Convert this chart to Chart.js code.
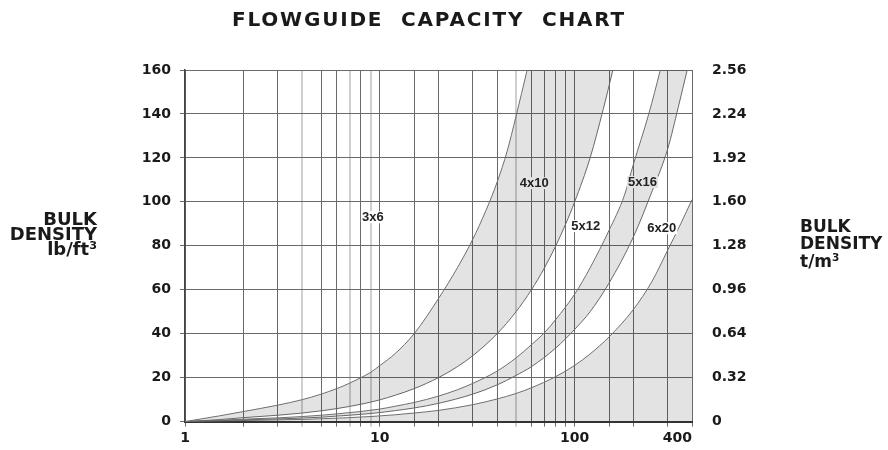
<!DOCTYPE html>
<html>
<head>
<meta charset="utf-8">
<title>Flowguide capacity chart</title>
<script src="https://cdn.jsdelivr.net/npm/chart.js@4.4.1/dist/chart.umd.min.js"></script>
<style>
  body { margin: 0; background: #fff; }
  #wrap { position: relative; width: 888px; height: 450px; font-family: "DejaVu Sans", sans-serif; font-weight: bold; color: #1a1a1a; }
  #wrap canvas { position: absolute; left: 0; top: 0; }
  .txt { position: absolute; white-space: nowrap; line-height: 1; }
  #title { left: 232px; top: 9px; font-size: 20px; letter-spacing: 1.8px; word-spacing: 9px; }
  .lside { right: 791px; font-size: 18px; text-align: right; }
  .rside { left: 800px; font-size: 17px; }
  sup { font-size: 0.62em; vertical-align: 0.55em; line-height: 0; }
</style>
</head>
<body>
<div id="wrap">
  <canvas id="capacity-chart" width="888" height="450"></canvas>
  <div id="title" class="txt">FLOWGUIDE CAPACITY CHART</div>
  <div class="txt lside" style="top:210px">BULK</div>
  <div class="txt lside" style="top:225px">DENSITY</div>
  <div class="txt lside" style="top:240px">lb/ft<sup>3</sup></div>
  <div class="txt rside" style="top:218px">BULK</div>
  <div class="txt rside" style="top:235px">DENSITY</div>
  <div class="txt rside" style="top:253px">t/m<sup>3</sup></div>
</div>
<script>
// boundary curves, x = capacity (log axis), y = bulk density lb/ft3
// the last points of each curve sit above the top of the plot so the bands close off there (clipped)
const c1X = [1, 1.5, 2, 3, 4, 5, 6, 7, 8, 9, 10, 12, 15, 20, 25, 30, 35, 40, 45, 50, 57, 65, 400];
const c1Y = [0, 2.6, 4.6, 7.5, 10, 12.5, 15, 17.5, 20, 22.5, 25.5, 31, 40, 56, 70, 83, 96, 109, 123, 139, 160, 182, 182];

const c2X = [1, 1.5, 2, 3, 4, 5, 6, 7, 8, 9, 10, 12, 15, 20, 25, 30, 40, 50, 60, 70, 80, 90, 100, 120, 140, 157, 175, 400];
const c2Y = [0, 0.9, 1.8, 2.9, 3.9, 4.9, 5.9, 6.9, 7.9, 8.9, 9.9, 12, 15, 20, 25, 30, 40, 50, 60, 70, 80, 90, 100, 120, 142, 160, 178, 178];

const c3X = [1, 1.5, 2, 3, 4, 5, 6, 7, 8, 9, 10, 12, 15, 20, 25, 30, 40, 50, 60, 70, 80, 100, 120, 150, 180, 200, 240, 275, 300, 400];
const c3Y = [0, 0.6, 1.1, 1.7, 2.3, 2.9, 3.5, 4.1, 4.6, 5.2, 5.7, 7, 8.7, 11.6, 14.5, 17.4, 23, 29, 35, 40.5, 46.5, 58, 70, 87, 103, 117, 140, 160, 174, 174];

const c4X = [1, 1.5, 2, 3, 4, 5, 6, 7, 8, 9, 10, 12, 15, 20, 30, 40, 50, 60, 80, 100, 120, 150, 200, 250, 300, 340, 378, 400];
const c4Y = [0, 0.4, 0.8, 1.2, 1.6, 2, 2.5, 2.9, 3.3, 3.7, 4.1, 5, 6.2, 8.3, 12.5, 16.7, 21, 25, 33.5, 42, 50, 63, 84, 105, 124, 143, 160, 169];

const c5X = [1, 1.5, 2, 3, 4, 5, 6, 7, 8, 9, 10, 12, 15, 20, 30, 40, 50, 60, 80, 100, 120, 150, 200, 250, 300, 350, 400];
const c5Y = [0, 0.25, 0.5, 0.8, 1, 1.3, 1.55, 1.8, 2.1, 2.3, 2.6, 3.1, 3.9, 5.1, 7.7, 10.3, 12.8, 15.4, 20.5, 25.6, 30.8, 38.5, 51, 64, 78, 90, 101];

// band names and where they sit (x capacity, y density)
const bandNames = ['3x6', '4x10', '5x12', '5x16', '6x20'];
const bandX = [9.2, 62, 114, 223, 280];
const bandY = [93, 108.5, 89, 109, 88];

const xTickValues = [1, 10, 100, 400];
const xTickLabels = ['1', '10', '100', '400\u2007\u2007\u2007'];
const rightLabels = ['0', '0.32', '0.64', '0.96', '1.28', '1.60', '1.92', '2.24', '2.56'];

const lightLines = [4, 7, 9, 50];
const shade = 'rgba(0,0,0,0.11)';
const tickFont = { family: '"DejaVu Sans", sans-serif', size: 14, weight: 'bold' };

function points(xs, ys) {
    return xs.map((v, i) => ({ x: v, y: ys[i] }));
}

const bandLabels = {
    id: 'bandLabels',
    afterDatasetsDraw(chart) {
        const ctx = chart.ctx;
        const xs = chart.scales.x;
        const ys = chart.scales.y;
        ctx.save();
        ctx.font = 'bold 13px "Liberation Sans", Arial, sans-serif';
        ctx.textAlign = 'center';
        ctx.textBaseline = 'middle';
        bandNames.forEach((name, i) => {
            const px = xs.getPixelForValue(bandX[i]);
            const py = ys.getPixelForValue(bandY[i]);
            const w = ctx.measureText(name).width;
            ctx.fillStyle = (i % 2) ? '#e3e3e3' : '#ffffff';
            ctx.fillRect(px - w / 2 - 1, py - 6, w + 2, 12);
            ctx.fillStyle = '#222';
            ctx.fillText(name, px, py);
        });
        ctx.restore();
    }
};

const curveStyle = {
    borderColor: '#6e6e6e',
    borderWidth: 1,
    pointRadius: 0,
    cubicInterpolationMode: 'monotone',
    backgroundColor: shade
};

new Chart(document.getElementById('capacity-chart'), {
    type: 'line',
    data: {
        datasets: [
            { ...curveStyle, data: points(c1X, c1Y), fill: '+1' },
            { ...curveStyle, data: points(c2X, c2Y), fill: false },
            { ...curveStyle, data: points(c3X, c3Y), fill: '+1' },
            { ...curveStyle, data: points(c4X, c4Y), fill: false },
            { ...curveStyle, data: points(c5X, c5Y), fill: 'origin' }
        ]
    },
    options: {
        responsive: false,
        animation: false,
        layout: { padding: { left: 135, right: 136, top: 70, bottom: 0 } },
        plugins: { legend: { display: false }, tooltip: { enabled: false } },
        scales: {
            x: {
                type: 'logarithmic',
                min: 1,
                max: 400,
                afterFit(s) { s.height = 25; },
                grid: {
                    color: c => (c.tick && lightLines.includes(c.tick.value)) ? '#cfcfcf' : '#6a6a6a',
                    lineWidth: c => (c.tick && lightLines.includes(c.tick.value)) ? 2 : 1,
                    tickLength: 5
                },
                border: { color: '#333', width: 2 },
                ticks: {
                    autoSkip: false,
                    maxRotation: 0,
                    padding: 3,
                    color: '#1a1a1a',
                    font: tickFont,
                    callback: v => {
                        const i = xTickValues.indexOf(v);
                        return i >= 0 ? xTickLabels[i] : '';
                    }
                }
            },
            y: {
                min: 0,
                max: 160,
                afterFit(s) { s.width = 50; },
                grid: { color: '#6a6a6a', tickLength: 5 },
                border: { color: '#444', width: 1.5 },
                ticks: { stepSize: 20, padding: 9, color: '#1a1a1a', font: tickFont }
            },
            y2: {
                position: 'right',
                min: 0,
                max: 160,
                afterFit(s) { s.width = 60; },
                grid: { drawOnChartArea: false, drawTicks: false },
                border: { display: false },
                ticks: { stepSize: 20, padding: 20, color: '#1a1a1a', font: tickFont, callback: (v, i) => rightLabels[i] }
            }
        }
    },
    plugins: [bandLabels]
});
</script>
</body>
</html>
